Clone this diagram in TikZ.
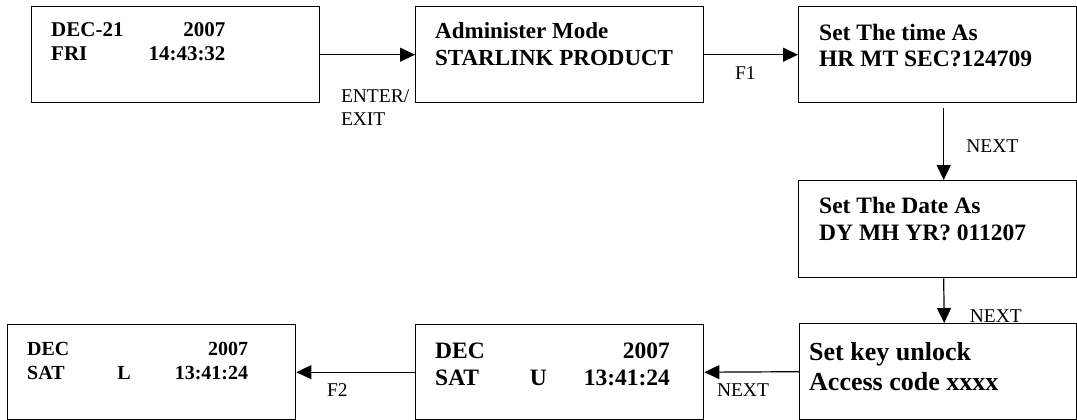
\documentclass[tikz,border=0pt]{standalone}
\usepackage{fontspec}
\setmainfont{Liberation Serif}
\usetikzlibrary{arrows.meta,positioning}

\tikzset{
  screen/.style={draw, rectangle, line width=1.4pt, inner sep=0pt, anchor=north west,
    minimum width=288pt, minimum height=96pt},
  lcd/.style={anchor=base west, inner sep=0pt},
  keylabel/.style={inner sep=0pt, font=\fontsize{19.5}{23}\selectfont},
  flow/.style={-{Triangle[length=15pt,width=14pt]}, line width=1.2pt},
}

\begin{document}
\begin{tikzpicture}[x=1pt, y=-1pt]
    \useasboundingbox (0,0) rectangle (1077,420);

    % Screens (top row)
    \node[screen] (clock) at (31,6) {};
    \node[screen] (admin) at (415,6) {};
    \node[screen, minimum width=278pt] (time) at (798,6) {};

    % Screens (right column and bottom row)
    \node[screen, minimum width=278pt, minimum height=97pt] (date) at (798,180) {};
    \node[screen, minimum width=277pt] (key) at (799,323) {};
    \node[screen, minimum height=95pt] (unlocked) at (415,324) {};
    \node[screen, minimum height=95pt] (locked) at (7,324) {};

    % Display texts
    \node[lcd, font=\bfseries\fontsize{21}{24}\selectfont] (clocktext)
        at ([shift={(20pt,-31pt)}]clock.north west)
        {\begin{tabular}[t]{@{}l@{\hspace{25pt}}r@{}}
            DEC-21 & 2007\\
            FRI & 14:43:32
        \end{tabular}};
    \node[lcd, font=\bfseries\fontsize{23}{27}\selectfont] (admintext)
        at ([shift={(20pt,-33pt)}]admin.north west)
        {\begin{tabular}[t]{@{}l@{}}
            Administer Mode\\
            STARLINK PRODUCT
        \end{tabular}};
    \node[lcd, font=\bfseries\fontsize{23.5}{26}\selectfont] (timetext)
        at ([shift={(21pt,-35pt)}]time.north west)
        {\begin{tabular}[t]{@{}l@{}}
            Set The time As\\
            HR MT SEC?124709
        \end{tabular}};
    \node[lcd, font=\bfseries\fontsize{23.5}{27}\selectfont] (datetext)
        at ([shift={(21pt,-33pt)}]date.north west)
        {\begin{tabular}[t]{@{}l@{}}
            Set The Date As\\
            DY MH YR? 011207
        \end{tabular}};
    \node[lcd, font=\bfseries\fontsize{26}{30}\selectfont] (keytext)
        at ([shift={(10pt,-37pt)}]key.north west)
        {\begin{tabular}[t]{@{}l@{}}
            Set key unlock\\
            Access code xxxx
        \end{tabular}};
    \node[lcd, font=\bfseries\fontsize{23.5}{27}\selectfont] (unlockedtext)
        at ([shift={(20pt,-34pt)}]unlocked.north west)
        {\begin{tabular}[t]{@{}l@{\hspace{45pt}}c@{\hspace{37pt}}r@{}}
            DEC & & 2007\\
            SAT & U & 13:41:24
        \end{tabular}};
    \node[lcd, font=\bfseries\fontsize{20}{24}\selectfont] (lockedtext)
        at ([shift={(20pt,-31pt)}]locked.north west)
        {\begin{tabular}[t]{@{}l@{\hspace{48pt}}c@{\hspace{44pt}}r@{}}
            DEC & & 2007\\
            SAT & L & 13:41:24
        \end{tabular}};

    % Key presses
    \draw[flow] (clock.east) -- node[keylabel, at start, below right=34pt and 20pt, align=left]
        {ENTER/\\EXIT} (admin.west);
    \draw[flow] (admin.east) -- node[keylabel, at start, below right=11pt and 30pt] {F1} (time.west);
    \draw[flow, shorten <=5pt] ([xshift=6pt]time.south) --
        node[keylabel, right=22pt, yshift=-4pt] {NEXT} ([xshift=6pt]date.north);
    \draw[flow] ([xshift=6pt]date.south) --
        node[keylabel, at end, above right=0pt and 25pt] {NEXT} ([xshift=6pt]key.north);
    \draw[flow] (key.west) -- node[keylabel, at end, below right=11pt and 12pt] {NEXT} (unlocked.east);
    \draw[flow] (unlocked.west) -- node[keylabel, at end, below right=11pt and 30pt] {F2} (locked.east);
\end{tikzpicture}
\end{document}
